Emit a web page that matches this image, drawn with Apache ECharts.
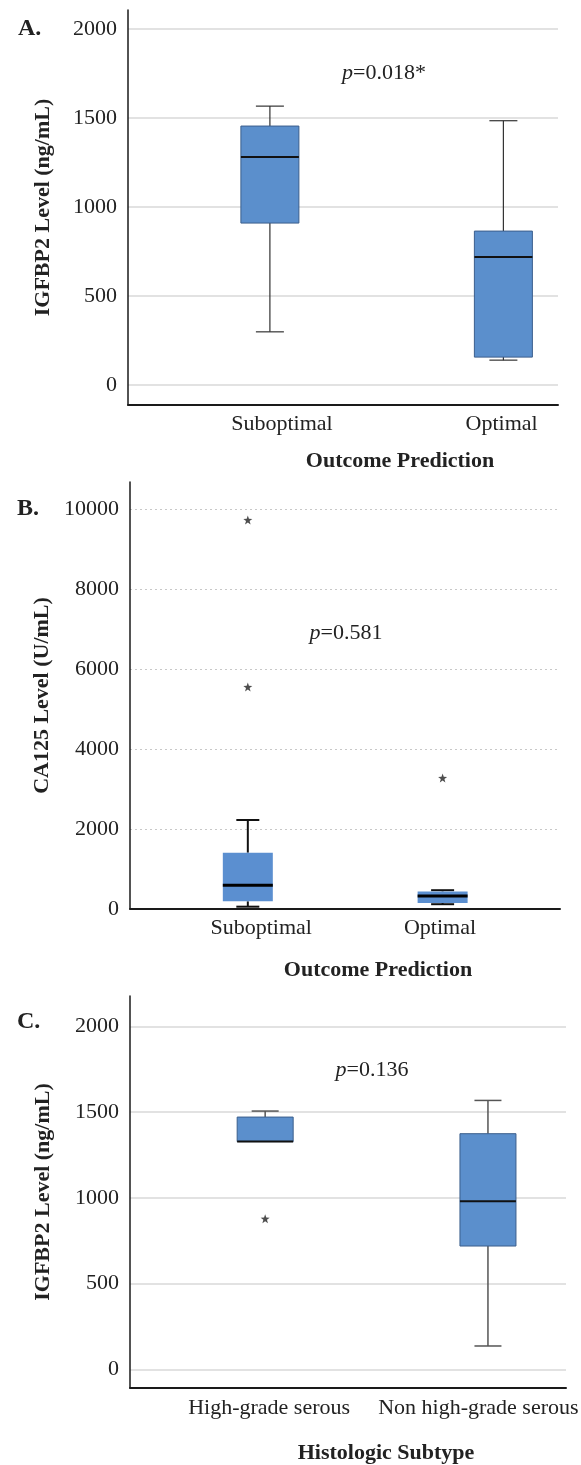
<!DOCTYPE html>
<html>
<head>
<meta charset="utf-8">
<script src="https://cdn.jsdelivr.net/npm/echarts@6/dist/echarts.min.js"></script>
<style>
  html, body { margin: 0; padding: 0; background: #fff; }
  #main { width: 581px; height: 1465px; }
</style>
</head>
<body>
<div id="main"></div>
<script>
// box values: [min, Q1, median, Q3, max]
var outcomeCats = ['Suboptimal', 'Optimal'];
var igfbpOutcomeBox = [
  [299, 910, 1281, 1455, 1567],
  [140, 157, 719, 865, 1485]
];

var ca125Box = [
  [58, 192, 592, 1408, 2225],
  [120, 150, 325, 440, 470]
];
// outliers: [category index, value]
var ca125Outliers = [[0, 9725], [0, 5550], [1, 3275]];

var subtypeCats = ['High-grade serous', 'Non high-grade serous'];
var igfbpSubtypeBox = [
  [1328, 1328, 1328, 1471, 1506],
  [136, 719, 980, 1374, 1568]
];
var igfbpSubtypeOutliers = [[0, 878]];

var igfbpTicks = [0, 500, 1000, 1500, 2000];
var ca125Ticks = [0, 2000, 4000, 6000, 8000, 10000];
var pValues = ['0.018*', '0.581', '0.136'];

var FONT = '"Liberation Serif", "Times New Roman", serif';
var BLUE = '#5b8fcc';

// where each category sits along the (0..1) x axis, and where its label sits
var panels = [
  {
    grid: { left: 128, top: 10, width: 430, height: 395 },
    yMin: -112, yMax: 2107, ticks: igfbpTicks,
    yName: 'IGFBP2 Level (ng/mL)', nameGap: 74,
    cats: outcomeCats, boxes: igfbpOutcomeBox, outliers: [],
    boxSlots: [0.330, 0.873], labelSlots: [0.358, 0.869], labelMargin: 8,
    boxW: 58, capW: 28,
    style: { fill: BLUE, stroke: '#3b5e8c', strokeW: 1, median: '#111', medianW: 2, whisker: '#333', whiskerW: 1.2 },
    split: { color: '#d9d9d9', width: 1.5, type: 'solid' }
  },
  {
    grid: { left: 130, top: 482, width: 430, height: 427 },
    yMin: 0, yMax: 10675, ticks: ca125Ticks,
    yName: 'CA125 Level (U/mL)', nameGap: 76,
    cats: outcomeCats, boxes: ca125Box, outliers: ca125Outliers,
    boxSlots: [0.274, 0.727], labelSlots: [0.305, 0.721], labelMargin: 8,
    boxW: 50, capW: 23,
    style: { fill: '#5b8fd0', stroke: null, strokeW: 0, median: '#000', medianW: 3, whisker: '#111', whiskerW: 2 },
    split: { color: '#c8c8c8', width: 1.2, type: [2, 3] }
  },
  {
    grid: { left: 130, top: 996, width: 436, height: 392 },
    yMin: -109, yMax: 2177, ticks: igfbpTicks,
    yName: 'IGFBP2 Level (ng/mL)', nameGap: 76,
    cats: subtypeCats, boxes: igfbpSubtypeBox, outliers: igfbpSubtypeOutliers,
    boxSlots: [0.310, 0.821], labelSlots: [0.319, 0.799], labelMargin: 9,
    boxW: 56, capW: 27,
    style: { fill: BLUE, stroke: '#3b5e8c', strokeW: 1, median: '#111', medianW: 2, whisker: '#555', whiskerW: 1.5 },
    split: { color: '#d9d9d9', width: 1.5, type: 'solid' }
  }
];

function boxRenderer(p) {
  var s = p.style;
  return function (params, api) {
    var x = api.value(0);
    var lo = api.coord([x, api.value(1)]);
    var q1 = api.coord([x, api.value(2)]);
    var md = api.coord([x, api.value(3)]);
    var q3 = api.coord([x, api.value(4)]);
    var hi = api.coord([x, api.value(5)]);
    var cx = md[0];
    var hb = p.boxW / 2, hc = p.capW / 2;
    var wStyle = { stroke: s.whisker, lineWidth: s.whiskerW };
    var kids = [];
    if (hi[1] < q3[1]) {
      kids.push({ type: 'line', shape: { x1: cx, y1: hi[1], x2: cx, y2: q3[1] }, style: wStyle });
      kids.push({ type: 'line', shape: { x1: cx - hc, y1: hi[1], x2: cx + hc, y2: hi[1] }, style: wStyle });
    }
    if (lo[1] > q1[1]) {
      kids.push({ type: 'line', shape: { x1: cx, y1: q1[1], x2: cx, y2: lo[1] }, style: wStyle });
      kids.push({ type: 'line', shape: { x1: cx - hc, y1: lo[1], x2: cx + hc, y2: lo[1] }, style: wStyle });
    }
    kids.push({
      type: 'rect',
      shape: { x: cx - hb, y: q3[1], width: p.boxW, height: q1[1] - q3[1] },
      style: { fill: s.fill, stroke: s.stroke, lineWidth: s.strokeW }
    });
    kids.push({
      type: 'line',
      shape: { x1: cx - hb, y1: md[1], x2: cx + hb, y2: md[1] },
      style: { stroke: s.median, lineWidth: s.medianW }
    });
    return { type: 'group', children: kids };
  };
}

var starPath = 'path://M0,-10 L2.35,-3.24 L9.51,-3.09 L3.8,1.24 L5.88,8.09 L0,4 L-5.88,8.09 L-3.8,1.24 L-9.51,-3.09 L-2.35,-3.24 Z';

var grids = [], xAxes = [], yAxes = [], series = [];
panels.forEach(function (p, i) {
  grids.push(Object.assign({ outerBoundsMode: 'none', containLabel: false }, p.grid));

  xAxes.push({
    gridIndex: i, type: 'value', min: 0, max: 1,
    axisLine: { show: true, onZero: false, lineStyle: { color: '#1a1a1a', width: 2 } },
    axisTick: { show: false },
    splitLine: { show: false },
    axisLabel: {
      customValues: p.labelSlots,
      margin: p.labelMargin,
      fontSize: 22, fontFamily: FONT, color: '#222',
      formatter: function (v) {
        for (var k = 0; k < p.labelSlots.length; k++) {
          if (Math.abs(p.labelSlots[k] - v) < 1e-6) return p.cats[k];
        }
        return '';
      }
    }
  });

  yAxes.push({
    gridIndex: i, type: 'value', min: p.yMin, max: p.yMax,
    name: p.yName, nameLocation: 'middle', nameGap: p.nameGap, nameRotate: 90,
    nameTextStyle: { fontSize: 22, fontWeight: 'bold', fontFamily: FONT, color: '#222' },
    axisLine: { show: true, onZero: false, lineStyle: { color: '#1a1a1a', width: 1.5 } },
    axisTick: { show: false, customValues: p.ticks },
    axisLabel: {
      customValues: p.ticks, margin: 11, fontSize: 22, fontFamily: FONT, color: '#222',
      formatter: function (v) { return String(v); }
    },
    splitLine: { show: true, lineStyle: p.split }
  });

  var boxData = p.boxes.map(function (b, k) {
    return [p.boxSlots[k]].concat(b);
  });
  series.push({
    type: 'custom', xAxisIndex: i, yAxisIndex: i,
    renderItem: boxRenderer(p),
    encode: { x: 0, y: [1, 2, 3, 4, 5] },
    data: boxData, silent: true, z: 3
  });

  if (p.outliers.length) {
    series.push({
      type: 'scatter', xAxisIndex: i, yAxisIndex: i,
      symbol: starPath, symbolSize: 9,
      itemStyle: { color: '#222' },
      data: p.outliers.map(function (o) { return [p.boxSlots[o[0]], o[1]]; }),
      silent: true, z: 4
    });
  }
});

function label(text, x, y, opts) {
  return {
    type: 'text', x: x, y: y, silent: true,
    style: Object.assign({
      text: text, fill: '#222', fontFamily: FONT, fontSize: 22,
      textAlign: 'center', textVerticalAlign: 'middle'
    }, opts || {})
  };
}
function pText(v, x, y) {
  return label('{i|p}=' + v, x, y, {
    rich: { i: { fontStyle: 'italic', fontFamily: FONT, fontSize: 22, fill: '#222' } }
  });
}

var myChart = echarts.init(document.getElementById('main'));
var option = {
  animation: false,
  backgroundColor: '#fff',
  grid: grids,
  xAxis: xAxes,
  yAxis: yAxes,
  series: series,
  graphic: [
    label('A.', 18, 29, { fontWeight: 'bold', fontSize: 24, textAlign: 'left' }),
    label('B.', 17, 509, { fontWeight: 'bold', fontSize: 24, textAlign: 'left' }),
    label('C.', 17, 1022, { fontWeight: 'bold', fontSize: 24, textAlign: 'left' }),
    pText(pValues[0], 384, 73),
    pText(pValues[1], 346, 633),
    pText(pValues[2], 372, 1070),
    label('Outcome Prediction', 400, 461, { fontWeight: 'bold' }),
    label('Outcome Prediction', 378, 970, { fontWeight: 'bold' }),
    label('Histologic Subtype', 386, 1453, { fontWeight: 'bold' })
  ]
};
myChart.setOption(option);
</script>
</body>
</html>
